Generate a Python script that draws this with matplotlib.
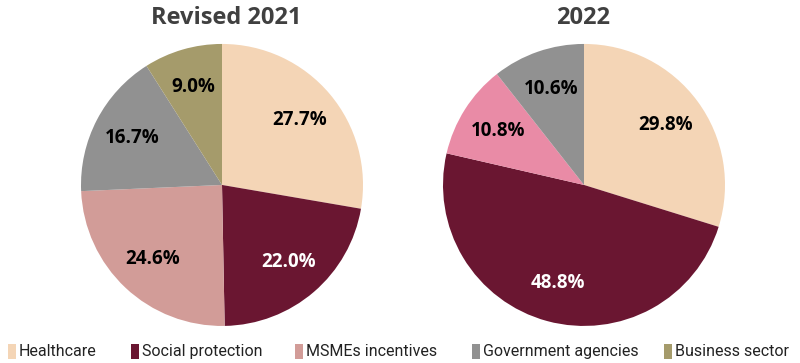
import matplotlib
matplotlib.use('Agg')
import matplotlib.pyplot as plt
from matplotlib.patches import Rectangle

categories = ['Healthcare', 'Social protection', 'MSMEs incentives',
              'Government agencies', 'Business sector']
values_2021 = [27.7, 22.0, 24.6, 16.7, 9.0]
values_2022 = [29.8, 48.8, 10.8, 10.6]

colors_2021 = ['#F4D5B6', '#6A1631', '#D29C98', '#919191', '#A59B6B']
colors_2022 = ['#F4D5B6', '#6A1631', '#E98BA6', '#919191']

# left edge of each legend marker, in figure fraction
legend_x = [0.010, 0.164, 0.369, 0.590, 0.830]

fig = plt.figure(figsize=(8, 3.63), dpi=100)


def draw_pie(rect, values, colors, title, title_x):
    ax = fig.add_axes(rect)
    wedges, texts, autotexts = ax.pie(
        values, colors=colors, startangle=90, counterclock=False,
        autopct='%1.1f%%', pctdistance=0.72,
        wedgeprops=dict(linewidth=0),
        textprops=dict(fontsize=13.5, fontweight='bold', family='Open Sans'))
    for i, t in enumerate(autotexts):
        t.set_color('white' if i == 1 else 'black')
    ax.set_xlim(-1, 1)
    ax.set_ylim(-1, 1)
    ax.set_aspect('equal')
    fig.text(title_x, 0.95, title, ha='center', va='center',
             fontsize=17, fontweight='bold', color='#404040', family='Open Sans')
    return ax


draw_pie([0.10125, 0.102, 0.3525, 0.777], values_2021, colors_2021,
         'Revised 2021', 0.2825)
draw_pie([0.55375, 0.102, 0.3525, 0.777], values_2022, colors_2022,
         '2022', 0.729)

# legend along the bottom
for x, c, name in zip(legend_x, colors_2021, categories):
    fig.patches.append(Rectangle((x, 0.012), 0.0095, 0.04, facecolor=c,
                                 edgecolor='none', transform=fig.transFigure))
    fig.text(x + 0.0135, 0.032, name, ha='left', va='center', fontsize=11.5,
             color='#222222', family='Roboto')

fig.savefig('out.png', dpi=100)
